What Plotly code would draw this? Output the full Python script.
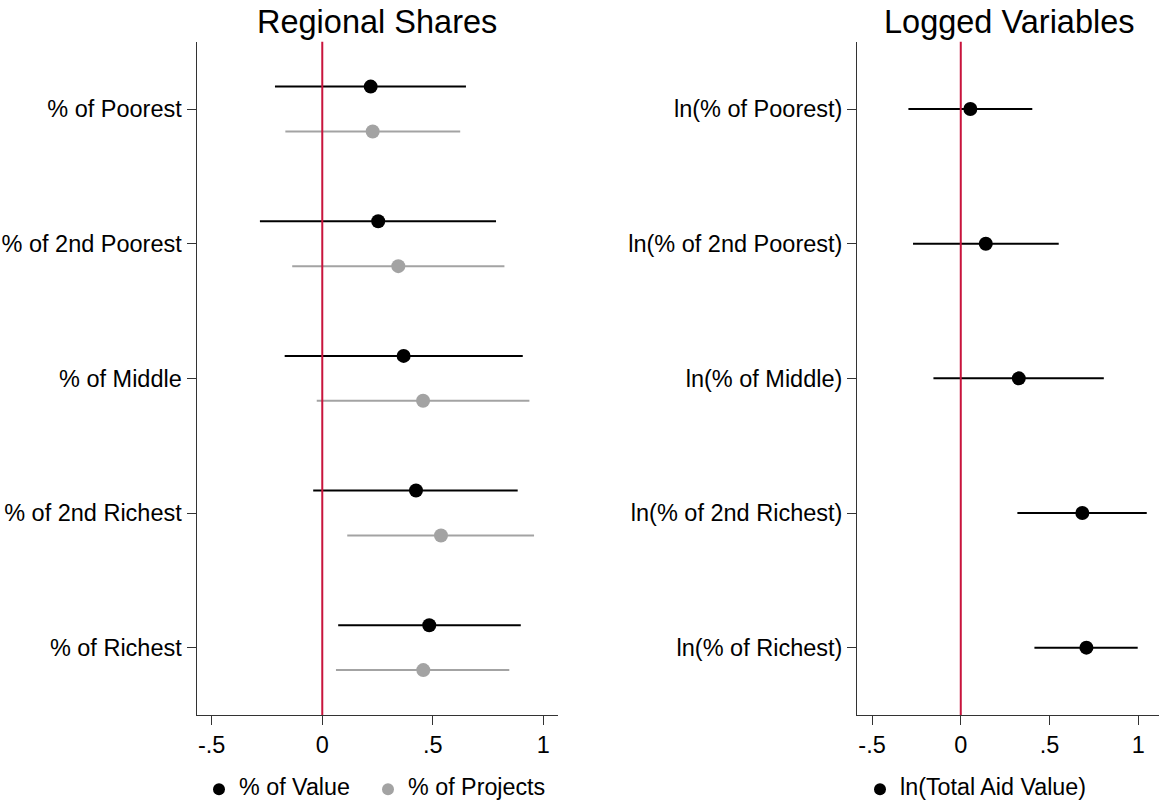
import plotly.graph_objects as go

W, H = 1159, 806

# ---- data ----
left_cats = ["% of Poorest", "% of 2nd Poorest", "% of Middle", "% of 2nd Richest", "% of Richest"]
right_cats = ["ln(% of Poorest)", "ln(% of 2nd Poorest)", "ln(% of Middle)", "ln(% of 2nd Richest)", "ln(% of Richest)"]
series_names = ["% of Value", "% of Projects", "ln(Total Aid Value)"]

value_est = [0.219, 0.253, 0.368, 0.424, 0.484]
value_lo = [-0.214, -0.282, -0.170, -0.041, 0.072]
value_hi = [0.650, 0.786, 0.907, 0.884, 0.898]

proj_est = [0.228, 0.344, 0.456, 0.537, 0.457]
proj_lo = [-0.167, -0.136, -0.025, 0.113, 0.062]
proj_hi = [0.624, 0.824, 0.937, 0.958, 0.846]

log_est = [0.054, 0.141, 0.327, 0.685, 0.708]
log_lo = [-0.295, -0.269, -0.154, 0.319, 0.415]
log_hi = [0.403, 0.552, 0.806, 1.048, 0.997]

xtick_vals = [-0.5, 0, 0.5, 1]
xtick_text = ["-.5", "0", ".5", "1"]

FONT = "Liberation Sans, Arial, Helvetica, sans-serif"
BLACK = "#000000"
GREY = "#A3A3A3"
RED = "#C8143C"
AX = "#333333"
TICKSIZE = 23.5
LEGSIZE = 23.3

pos = [i + 1 for i in range(len(left_cats))]


def eb(est, lo, hi, color):
    return dict(type="data", symmetric=False,
                array=[h - e for h, e in zip(hi, est)],
                arrayminus=[e - l for e, l in zip(est, lo)],
                color=color, thickness=2, width=0)


def legname(s):
    return f"<span style='font-size:{LEGSIZE}px'>{s}</span>"


fig = go.Figure()
fig.add_trace(go.Scatter(x=value_est, y=[p - 1/6 for p in pos], mode="markers",
                         marker=dict(color=BLACK, size=14), error_x=eb(value_est, value_lo, value_hi, BLACK),
                         name=legname(series_names[0]), xaxis="x", yaxis="y", legend="legend"))
fig.add_trace(go.Scatter(x=proj_est, y=[p + 1/6 for p in pos], mode="markers",
                         marker=dict(color=GREY, size=14), error_x=eb(proj_est, proj_lo, proj_hi, GREY),
                         name=legname(series_names[1]), xaxis="x", yaxis="y", legend="legend3"))
fig.add_trace(go.Scatter(x=log_est, y=pos, mode="markers",
                         marker=dict(color=BLACK, size=14), error_x=eb(log_est, log_lo, log_hi, BLACK),
                         name=legname(series_names[2]), xaxis="x2", yaxis="y2", legend="legend2"))

y_dom = [(H - 715) / H, (H - 41.7) / H]

common_x = dict(tickvals=xtick_vals, ticktext=xtick_text, showline=True, linecolor=AX, linewidth=1.4,
                ticks="outside", ticklen=9, tickcolor=AX, tickwidth=1.4, showgrid=False, zeroline=False,
                tickfont=dict(family=FONT, size=TICKSIZE, color="black"))
common_y = dict(tickvals=pos, range=[5.5, 0.5], showline=True, linecolor=AX, linewidth=1.4,
                ticks="outside", ticklen=9, tickcolor=AX, tickwidth=1.4, showgrid=False, zeroline=False,
                tickfont=dict(family=FONT, size=TICKSIZE, color="black"), domain=y_dom)


def leg(xpx):
    return dict(orientation="h", x=xpx / W, xanchor="left", y=0, yanchor="bottom",
                itemsizing="constant",
                font=dict(family=FONT, size=15, color="black"), bgcolor="rgba(0,0,0,0)")


fig.update_layout(
    width=W, height=H, margin=dict(l=0, r=0, t=0, b=0),
    paper_bgcolor="white", plot_bgcolor="white",
    font=dict(family=FONT, size=TICKSIZE, color="black"),
    xaxis=dict(domain=[196.7 / W, 557.7 / W], range=[-0.568, 1.065], anchor="y", **common_x),
    yaxis=dict(anchor="x", ticktext=left_cats, **common_y),
    xaxis2=dict(domain=[857.3 / W, 1.0], range=[-0.583, 1.117], anchor="y2", **common_x),
    yaxis2=dict(anchor="x2", ticktext=right_cats, **common_y),
    legend=leg(199),
    legend3=leg(368),
    legend2=leg(860),
    showlegend=True,
)

fig.add_shape(type="line", xref="x", yref="y domain", x0=0, x1=0, y0=0, y1=1,
              line=dict(color=RED, width=2))
fig.add_shape(type="line", xref="x2", yref="y2 domain", x0=0, x1=0, y0=0, y1=1,
              line=dict(color=RED, width=2))

fig.add_annotation(text="Regional Shares", xref="paper", yref="paper", x=377 / W, y=(H - 22) / H,
                   xanchor="center", yanchor="middle", showarrow=False,
                   font=dict(family=FONT, size=32.5, color="black"))
fig.add_annotation(text="Logged Variables", xref="paper", yref="paper", x=1009.5 / W, y=(H - 22) / H,
                   xanchor="center", yanchor="middle", showarrow=False,
                   font=dict(family=FONT, size=32.5, color="black"))

fig.write_html("out.html", config={"displayModeBar": False},
               post_script="document.body.style.margin='0';document.body.style.overflow='hidden';")
